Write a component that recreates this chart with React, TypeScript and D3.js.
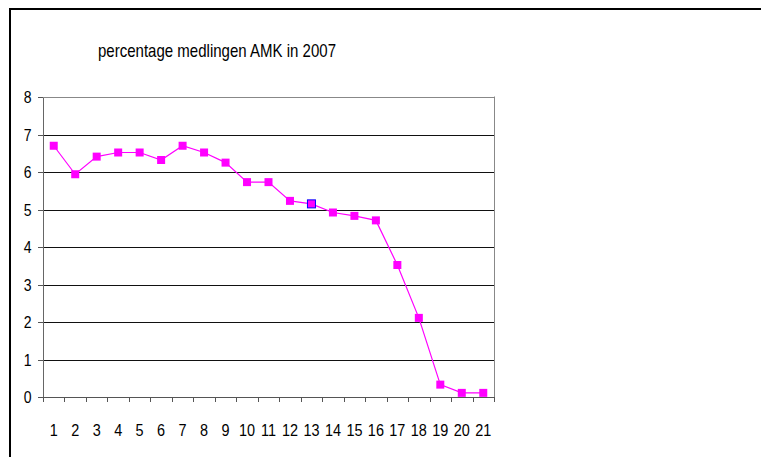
import React from "react";
import * as d3 from "d3";

const categories = ["1","2","3","4","5","6","7","8","9","10","11","12","13","14","15","16","17","18","19","20","21"];
const values = [6.70, 5.94, 6.41, 6.52, 6.52, 6.32, 6.70, 6.52, 6.25, 5.73, 5.73, 5.23, 5.15, 4.92, 4.83, 4.71, 3.52, 2.11, 0.33, 0.11, 0.11];
const yTicks = [0, 1, 2, 3, 4, 5, 6, 7, 8];
const title = "percentage medlingen AMK in 2007";
const selectedIndex = 12;

export default function App() {
  const W = 761, H = 457;
  const left = 43, right = 494, top = 97, bottom = 397;
  const x = d3.scaleBand().domain(categories).range([left, right]).paddingInner(0).paddingOuter(0);
  const y = d3.scaleLinear().domain([0, 8]).range([bottom, top]);
  const cx = (c: string) => (x(c) as number) + x.bandwidth() / 2;
  const line = d3.line<number>().x((_, i) => cx(categories[i])).y((d) => y(d));
  const font = "'Liberation Sans', Arial, sans-serif";
  const boundaries = categories.map((c) => x(c) as number).concat([right]);
  const sx = 0.85;
  return (
    <svg width={W} height={H} style={{ position: "absolute", left: 0, top: 0 }} fontFamily={font}>
      <rect x={0} y={0} width={W} height={H} fill="#fff" />
      <line x1={10} y1={9} x2={W} y2={9} stroke="#000" strokeWidth={2} />
      <line x1={10} y1={8} x2={10} y2={H} stroke="#000" strokeWidth={2} />
      <text x={98} y={56.5} fontSize={18.5} fill="#000" textLength={238} lengthAdjust="spacingAndGlyphs">{title}</text>
      {yTicks.map((t) => (
        <g key={t}>
          <line x1={left} x2={right} y1={Math.round(y(t)) + 0.5} y2={Math.round(y(t)) + 0.5} stroke={t === 0 ? "#555" : "#111"} strokeWidth={1} />
          <line x1={left - 5} x2={left} y1={Math.round(y(t)) + 0.5} y2={Math.round(y(t)) + 0.5} stroke="#555" />
          <text transform={`translate(31.5,${y(t) + 6}) scale(${sx},1)`} fontSize={16.5} textAnchor="end" fill="#000">{t}</text>
        </g>
      ))}
      <line x1={left + 0.5} x2={left + 0.5} y1={top} y2={bottom + 5} stroke="#666" />
      <line x1={right + 0.5} x2={right + 0.5} y1={top - 0.5} y2={bottom + 5} stroke="#888" />
      <line x1={left} x2={right} y1={top + 0.5} y2={top + 0.5} stroke="#888" />
      {boundaries.map((b, i) => (
        <line key={i} x1={Math.round(b) + 0.5} x2={Math.round(b) + 0.5} y1={bottom} y2={bottom + 5} stroke="#555" />
      ))}
      {categories.map((c) => (
        <text key={c} transform={`translate(${cx(c)},436) scale(${sx},1)`} fontSize={17} textAnchor="middle" fill="#000">{c}</text>
      ))}
      <path d={line(values) || ""} fill="none" stroke="#FF00FF" strokeWidth={1.2} />
      {values.map((v, i) => (
        <rect key={i} x={cx(categories[i]) - 4} y={y(v) - 4} width={8} height={8}
          fill="#FF00FF" stroke={i === selectedIndex ? "#0000FF" : "none"} strokeWidth={1} />
      ))}
    </svg>
  );
}
